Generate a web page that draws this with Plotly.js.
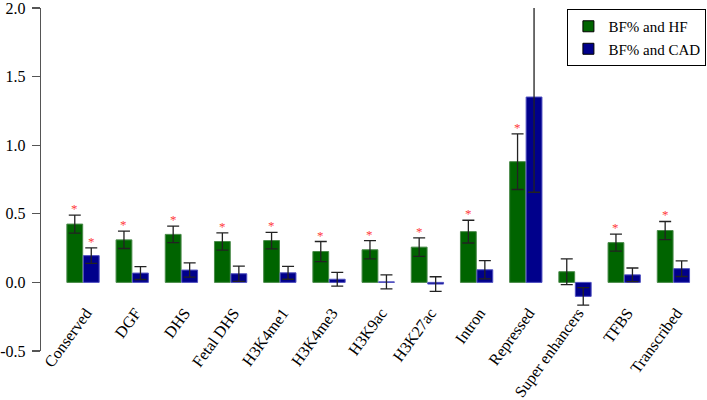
<!DOCTYPE html>
<html>
<head>
<meta charset="utf-8">
<script src="https://cdn.plot.ly/plotly-3.0.1.min.js"></script>
<style>html,body{margin:0;padding:0;background:#fff;}#chart{width:707px;height:400px;}</style>
</head>
<body>
<div id="chart"></div>
<script>
const categories = ["Conserved","DGF","DHS","Fetal DHS","H3K4me1","H3K4me3","H3K9ac","H3K27ac","Intron","Repressed","Super enhancers","TFBS","Transcribed"];
const hfValues  = [0.425, 0.310, 0.350, 0.298, 0.305, 0.225, 0.238, 0.257, 0.370, 0.880, 0.078, 0.290, 0.378];
const hfErrors  = [0.066, 0.063, 0.060, 0.063, 0.060, 0.073, 0.067, 0.067, 0.083, 0.203, 0.094, 0.062, 0.066];
const cadValues = [0.195, 0.068, 0.090, 0.063, 0.070, 0.023, 0.004, -0.012, 0.092, 1.351, -0.102, 0.055, 0.100];
const cadErrors = [0.057, 0.047, 0.052, 0.055, 0.047, 0.050, 0.051, 0.053, 0.067, 0.694, 0.064, 0.050, 0.057];
const hfSignificant  = [1,1,1,1,1,1,1,1,1,1,0,1,1];
const cadSignificant = [1,0,0,0,0,0,0,0,0,0,0,0,0];
const seriesNames = ["BF% and HF","BF% and CAD"];
const seriesColors = ["#006400","#00008b"];
const yTickVals = [-0.5, 0, 0.5, 1, 1.5, 2];
const yTickText = ["-0.5","0.0","0.5","1.0","1.5","2.0"];

const FONT = "Liberation Serif";
const bargap = 0.33;
const half = (1 - bargap) / 4;

function barTrace(vals, errs, name, color, edge) {
  return {
    type: "bar", x: categories, y: vals, name: name, showlegend: false,
    marker: {color: color, line: {color: edge, width: 1}},
    error_y: {type: "data", array: errs, visible: true, color: "#222", thickness: 1.3, width: 6},
    cliponaxis: false, hoverinfo: "skip"
  };
}
function legendTrace(name, color) {
  return {
    type: "scatter", mode: "markers", x: [null], y: [null], name: name,
    marker: {symbol: "square", size: 11, color: color, line: {color: "#000", width: 1}},
    hoverinfo: "skip"
  };
}

const data = [
  barTrace(hfValues, hfErrors, seriesNames[0], seriesColors[0], "#4a8a4a"),
  barTrace(cadValues, cadErrors, seriesNames[1], seriesColors[1], "#5050c0"),
  legendTrace(seriesNames[0], seriesColors[0]),
  legendTrace(seriesNames[1], seriesColors[1])
];

const annotations = [];
const starFont = {family: FONT, size: 13, color: "#ff3b3b"};
categories.forEach((c, i) => {
  if (hfSignificant[i]) annotations.push({x: i - half, y: hfValues[i] + hfErrors[i], xref: "x", yref: "y", text: "*", showarrow: false, yanchor: "bottom", yshift: -3, font: starFont});
  if (cadSignificant[i]) annotations.push({x: i + half, y: cadValues[i] + cadErrors[i], xref: "x", yref: "y", text: "*", showarrow: false, yanchor: "bottom", yshift: -3, font: starFont});
});

const layout = {
  width: 707, height: 400,
  margin: {l: 41, r: 9, t: 8, b: 49, autoexpand: false},
  paper_bgcolor: "#fff", plot_bgcolor: "#fff",
  font: {family: FONT, size: 16, color: "#000"},
  barmode: "group", bargap: bargap, bargroupgap: 0.04,
  showlegend: true,
  legend: {x: 1.0128, y: 0.997, xanchor: "right", yanchor: "top", bgcolor: "#fff", bordercolor: "#000", borderwidth: 1, font: {family: FONT, size: 15, color: "#000"}, tracegroupgap: 0, itemwidth: 30},
  xaxis: {
    type: "category", range: [-0.854, 12.5], anchor: "free", position: 0.15,
    showline: false, showgrid: false, zeroline: false, ticks: "",
    tickangle: -54, ticklabelshift: 3, tickfont: {family: FONT, size: 16, color: "#000"}, automargin: false, fixedrange: true
  },
  yaxis: {
    range: [-0.5, 2.0], tickmode: "array", tickvals: yTickVals, ticktext: yTickText,
    showline: true, linecolor: "#555", linewidth: 1.3, ticks: "outside", ticklen: 8, tickcolor: "#555", tickwidth: 1.3,
    showgrid: false, zeroline: false, ticklabelstandoff: 3, ticklabeloverflow: "allow",
    tickfont: {family: FONT, size: 16, color: "#000"}, automargin: false, fixedrange: true
  },
  annotations: annotations
};

Plotly.newPlot("chart", data, layout, {staticPlot: true, displayModeBar: false});
</script>
</body>
</html>
